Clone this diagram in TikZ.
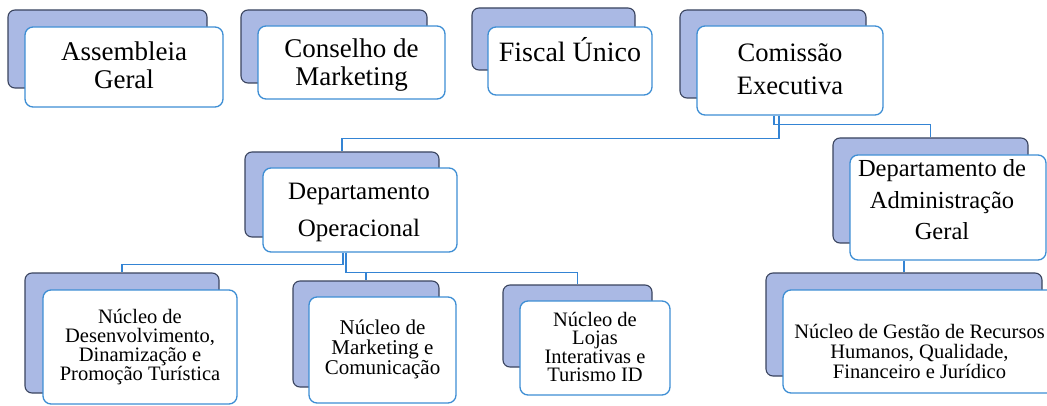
\documentclass[tikz,border=0pt]{standalone}
\usepackage{fontspec}
\setmainfont{Liberation Serif}
\newfontfamily\tnr{Liberation Serif}
\definecolor{backfill}{RGB}{170,185,228}
\definecolor{backdraw}{RGB}{58,68,95}
\definecolor{frontdraw}{RGB}{62,142,212}
\definecolor{connc}{RGB}{52,132,212}
\tikzset{
  backbox/.style={rectangle, rounded corners=7pt, fill=backfill, draw=backdraw, line width=1.1pt, inner sep=0pt},
  frontbox/.style={rectangle, rounded corners=8pt, fill=white, draw=frontdraw, line width=1.3pt, inner sep=0pt},
  conn/.style={draw=connc, line width=1.4pt},
  txt/.style={align=center, inner sep=0pt, text=black},
}
\newcommand{\fsz}[2]{\tnr\fontsize{#1}{#2}\selectfont}
\begin{document}
\begin{tikzpicture}[x=1pt,y=-1pt]
\useasboundingbox (0,0) rectangle (1047,406);
\clip (0,0) rectangle (1047,406);
\fill[white] (0,0) rectangle (1047,406);

% top row
\node[backbox, minimum width=199pt, minimum height=78pt] (agB) at (107.5,49) {};
\node[frontbox, minimum width=198pt, minimum height=80pt] (ag) at (124,67) {};
\node[txt, font=\fsz{27}{28}] (agT) at (124,65) {Assembleia\\Geral};

\node[backbox, minimum width=186pt, minimum height=73pt] (cmB) at (334,46.5) {};
\node[frontbox, minimum width=187pt, minimum height=73pt] (cm) at (351.5,62.5) {};
\node[txt, font=\fsz{27}{28}] (cmT) at (351.5,65) {Conselho de\\Marketing};

\node[backbox, minimum width=163pt, minimum height=62pt] (fuB) at (553.5,39) {};
\node[frontbox, minimum width=164pt, minimum height=68pt] (fu) at (570,61) {};
\node[txt, font=\fsz{28}{30}] (fuT) at (570,49.5) {Fiscal Único};

\node[backbox, minimum width=186pt, minimum height=88pt] (ceB) at (773,54) {};
\node[frontbox, minimum width=186pt, minimum height=89pt] (ce) at (790,70.5) {};
\node[txt, font=\fsz{26.6}{33}] (ceT) at (790,69.5) {Comissão\\Executiva};

% departments
\node[backbox, minimum width=194pt, minimum height=85pt] (dopB) at (342,194.5) {};
\node[frontbox, minimum width=194pt, minimum height=84pt] (dop) at (360,210) {};
\node[txt, font=\fsz{25}{37}] (dopT) at (359,212) {Departamento\\Operacional};

\node[backbox, minimum width=195pt, minimum height=105pt] (dadB) at (930.5,190.5) {};
\node[frontbox, minimum width=196pt, minimum height=105pt] (dad) at (948,207.5) {};
\node[txt, font=\fsz{24.5}{31.5}] (dadT) at (942,200) {Departamento de\\Administração\\Geral};

% bottom row
\node[backbox, minimum width=194pt, minimum height=120pt] (ndB) at (122,333) {};
\node[frontbox, minimum width=194pt, minimum height=114pt] (nd) at (140,347) {};
\node[txt, font=\fsz{20.5}{19}] (ndT) at (140,347) {Núcleo de\\Desenvolvimento,\\Dinamização e\\Promoção Turística};

\node[backbox, minimum width=146pt, minimum height=106pt] (nmB) at (366,334) {};
\node[frontbox, minimum width=147pt, minimum height=106pt] (nm) at (382.5,350) {};
\node[txt, font=\fsz{21}{20}] (nmT) at (382.5,349) {Núcleo de\\Marketing e\\Comunicação};

\node[backbox, minimum width=149pt, minimum height=82pt] (nlB) at (577.5,326) {};
\node[frontbox, minimum width=150pt, minimum height=94pt] (nl) at (595,348) {};
\node[txt, font=\fsz{20.5}{18.5}] (nlT) at (595,347) {Núcleo de\\Lojas\\Interativas e\\Turismo ID};

\node[backbox, minimum width=276pt, minimum height=103pt] (ngB) at (904,324.5) {};
\node[frontbox, minimum width=273pt, minimum height=103pt] (ng) at (919.5,341.5) {};
\node[txt, font=\fsz{20.5}{20}] (ngT) at (919.5,351) {Núcleo de Gestão de Recursos\\Humanos, Qualidade,\\Financeiro e Jurídico};

% connectors
\draw[conn] ([xshift=-16pt]ce.south) -- ++(0,9) -| (dadB.north);
\draw[conn] ([xshift=-11pt]ce.south) -- ++(0,23) -| (dopB.north);
\draw[conn] ([xshift=-17pt]dop.south) -- ++(0,12) -| (ndB.north);
\draw[conn] ([xshift=-14pt]dop.south) -- ++(0,20) -| (nmB.north);
\draw[conn] ([xshift=-14pt]dop.south) -- ++(0,20) -| (nlB.north);
\draw[conn] (dad.south -| ngB.north) -- (ngB.north);
\end{tikzpicture}
\end{document}
